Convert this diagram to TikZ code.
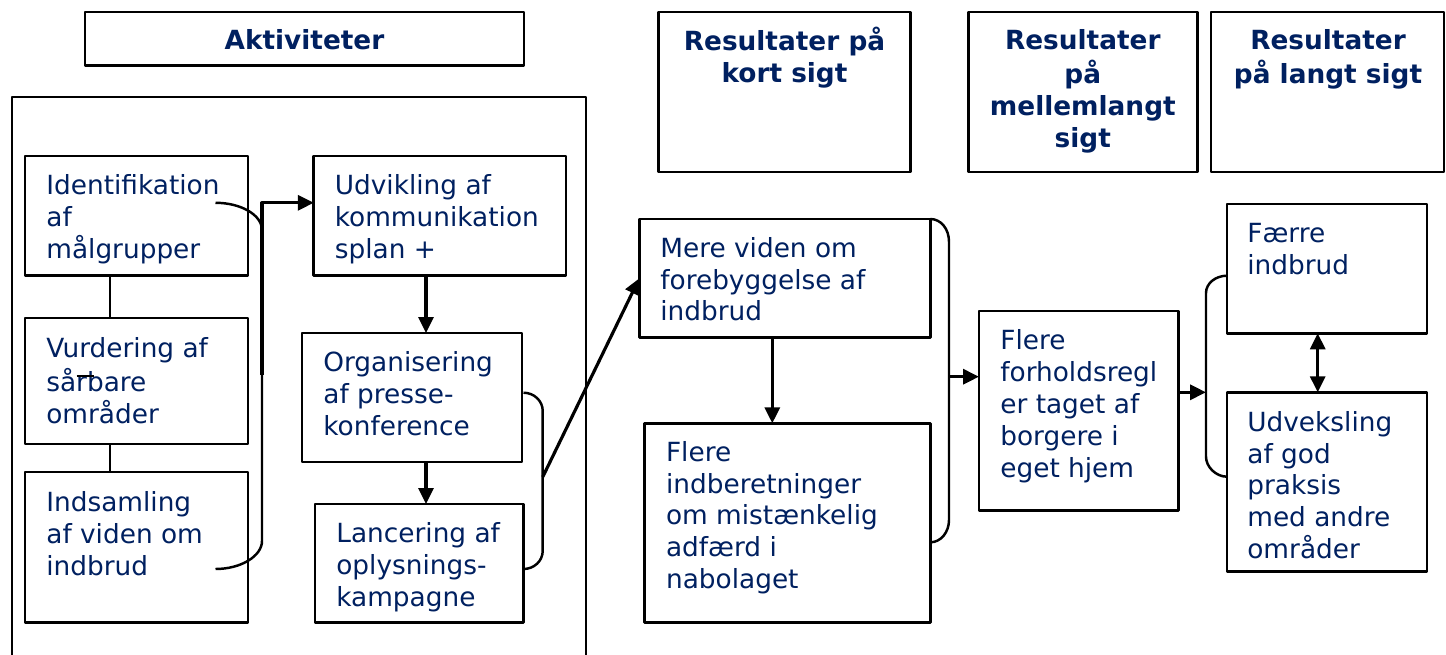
\documentclass[tikz,border=0pt]{standalone}
\usepackage{fontspec}
\setmainfont{DejaVu Sans}
\usetikzlibrary{arrows.meta,fit}
\definecolor{navy}{RGB}{0,32,96}
\begin{document}
\begin{tikzpicture}[x=0.02cm, y=-0.02cm, line join=round,
    box/.style={draw, line width=1.5pt, inner sep=0pt, outer sep=0pt, fit={#1}},
    txt/.style={anchor=north west, inner sep=0pt, align=left, text=navy, font=\fontsize{15}{18.2}\selectfont},
    head/.style={txt, anchor=north, align=center, font=\fontsize{15}{18.2}\selectfont\bfseries},
    tip/.tip={Triangle[length=0.32cm,width=0.3cm]},
    arr/.style={line width=1.8pt, -tip},
    brace/.style={line width=1.4pt}]
      \useasboundingbox (0,0) rectangle (1446,655);

      % headings
      \node[box={(85,12) (524,65.7)}] (akt) {};
      \node[box={(658.3,12) (910.7,172)}] (kort) {};
      \node[box={(968.3,12) (1197.3,172)}] (mellem) {};
      \node[box={(1211,12) (1444,172)}] (langt) {};
      \node[head] (aktT) at (304.5,26.4) {\strut Aktiviteter};
      \node[head] (kortT) at (784.5,26.4) {\strut Resultater på\\kort sigt};
      \node[head] (mellemT) at (1082.8,26.4) {\strut Resultater\\på\\mellemlangt\\sigt};
      \node[head] (langtT) at (1328,26.4) {\strut Resultater\\på langt sigt};

      % frame round the activities
      \draw[brace] (12,660) -- (12,97) -- (586,97) -- (586,660);

      % activities
      \node[box={(25,156) (248,275.6)}] (ident) {};
      \node[box={(25,318) (248,444)}] (vurd) {};
      \node[box={(25,472) (248,622.6)}] (indsam) {};
      \node[box={(313.8,156) (566,275.6)}] (udv) {};
      \node[box={(302,333) (522,462)}] (org) {};
      \node[box={(315,504) (523.5,622.6)}] (lanc) {};
      \node[txt] (identT) at (46,172.1) {\strut Identifikation\\af\\målgrupper};
      \node[txt] (vurdT) at (46,334.3) {\strut Vurdering af\\sårbare\\områder};
      \node[txt] (indsamT) at (46,488.6) {\strut Indsamling\\af viden om\\indbrud};
      \node[txt] (udvT) at (334.5,172.1) {\strut Udvikling af\\kommunikation\\splan +};
      \node[txt] (orgT) at (323,348.6) {\strut Organisering\\af presse-\\konference};
      \node[txt] (lancT) at (336,519.6) {\strut Lancering af\\oplysnings-\\kampagne};

      % results
      \node[box={(639.3,219) (930.3,337.7)}] (mere) {};
      \node[box={(644.3,423.3) (930.3,622.7)}] (indber) {};
      \node[box={(979,311) (1178.7,510.7)}] (forhold) {};
      \node[box={(1227,204) (1427,333.3)}] (faerre) {};
      \node[box={(1227,392.3) (1427,571.7)}] (udveks) {};
      \node[txt] (mereT) at (660,234.3) {\strut Mere viden om\\forebyggelse af\\indbrud};
      \node[txt] (indberT) at (665.7,438.3) {\strut Flere\\indberetninger\\om mistænkelig\\adfærd i\\nabolaget};
      \node[txt] (forholdT) at (1000,326.9) {\strut Flere\\forholdsregl\\er taget af\\borgere i\\eget hjem};
      \node[txt] (faerreT) at (1247,219.3) {\strut Færre\\indbrud};
      \node[txt] (udveksT) at (1247,408.3) {\strut Udveksling\\af god\\praksis\\med andre\\områder};

      % join points
      \coordinate (colA) at (110,0);
      \coordinate (colB) at (426,0);
      \coordinate (colC) at (772.3,0);
      \coordinate (colD) at (1317.7,0);
      \coordinate (jA) at (262,374.7);
      \coordinate (bA) at (262,202.8);
      \coordinate (jB) at (542.7,477);
      \coordinate (jC) at (949,376.7);
      \coordinate (jD) at (1206,392.3);

      % links
      \draw[brace] (ident.south -| colA) -- (vurd.north -| colA);
      \draw[brace] (vurd.south -| colA) -- (indsam.north -| colA);
      \draw[brace] (76.5,376) -- (93.8,376);
      \draw[arr] (udv.south -| colB) -- (org.north -| colB);
      \draw[arr] (org.south -| colB) -- (lanc.north -| colB);
      \draw[arr] (mere.south -| colC) -- (indber.north -| colC);
      \draw[arr, tip-tip] (faerre.south -| colD) -- (udveks.north -| colD);

      % brackets
      \draw[brace] (215.5,202.8) .. controls (241,202.8) and (262,215) .. (262,230) -- (262,541)
        .. controls (262,556) and (241,569) .. (215.5,569);
      \draw[brace] (523.5,392.7) .. controls (534,392.7) and (542.7,401) .. (542.7,410.7) -- (542.7,551)
        .. controls (542.7,561) and (534,569) .. (523.5,569);
      \draw[brace] (930.3,219) .. controls (941,219) and (949,229) .. (949,241.7) -- (949,520)
        .. controls (949,532) and (941,542.3) .. (930.3,542.3);
      \draw[brace] (1227,275.7) .. controls (1216,275.7) and (1206,283) .. (1206,293) -- (1206,456.7)
        .. controls (1206,467) and (1216,476.7) .. (1227,476.7);

      \draw[arr] (jA) -- (bA) -- (bA -| udv.west);
      \draw[arr] (jB) -- (mere.west);
      \draw[arr] (jC) -- (jC -| forhold.west);
      \draw[arr] (forhold.east |- jD) -- (jD);
    \end{tikzpicture}
\end{document}
